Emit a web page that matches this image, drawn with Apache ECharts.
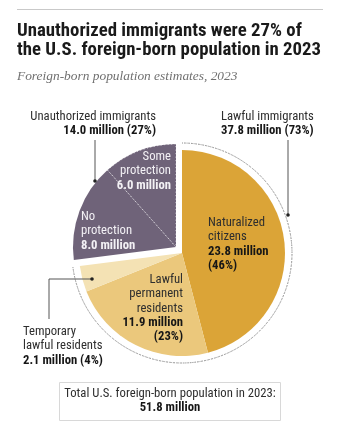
<!DOCTYPE html>
<html>
<head>
<meta charset="utf-8">
<script src="https://cdn.jsdelivr.net/npm/echarts@6/dist/echarts.min.js"></script>
<style>
  html, body { margin: 0; padding: 0; background: #fff; }
  #chart { width: 341px; height: 430px; }
</style>
</head>
<body>
<div id="chart"></div>
<script>
// Foreign-born population by legal status, 2023 (millions)
const categories = ['Naturalized citizens', 'Lawful permanent residents', 'Temporary lawful residents', 'No protection', 'Some protection'];
const values = [23.8, 11.9, 2.1, 8.0, 6.0];
const statusGroup = ['Lawful immigrants', 'Lawful immigrants', 'Lawful immigrants', 'Unauthorized immigrants', 'Unauthorized immigrants'];
const groups = ['Lawful immigrants', 'Unauthorized immigrants'];
const year = 2023;

const sliceColors = ['#dba437', '#ebc87c', '#f4e2b4', '#6f6379', '#6f6379'];
const SANS = "'Liberation Sans Narrow', 'Roboto Condensed', 'DejaVu Sans Condensed', sans-serif";
const SERIF = "'Liberation Serif', serif";

const total = values.reduce((a, b) => a + b, 0);
const groupSum = g => values.reduce((s, v, i) => s + (statusGroup[i] === g ? v : 0), 0);
const mil = v => v.toFixed(1) + ' million';
const pct = v => Math.round(v / total * 100) + '%';

const chart = echarts.init(document.getElementById('chart'), null, { renderer: 'canvas' });

const pieBase = {
  type: 'pie',
  startAngle: 90,
  clockwise: true,
  radius: [0, 103],
  silent: true,
  animation: false,
  avoidLabelOverlap: false,
  label: { show: false },
  labelLine: { show: false },
  emphasis: { disabled: true }
};

// lawful slices around the main center; unauthorized ones pulled out up-left
const lawfulPie = Object.assign({}, pieBase, {
  center: [182, 253],
  data: categories.map((c, i) => ({
    name: c, value: values[i],
    itemStyle: statusGroup[i] === groups[0]
      ? { color: sliceColors[i], borderWidth: 0 }
      : { color: 'none', borderWidth: 0 }
  }))
});
const unauthPie = Object.assign({}, pieBase, {
  center: [176, 247],
  data: categories.map((c, i) => {
    let style = { color: 'none', borderWidth: 0 };
    if (statusGroup[i] === groups[1]) {
      style = { color: sliceColors[i], borderWidth: 0 };
      if (c === 'Some protection') {
        style = { color: sliceColors[i], borderWidth: 1, borderColor: 'rgba(255,255,255,0.85)', borderType: [1, 2.5] };
      }
    }
    return { name: c, value: values[i], itemStyle: style };
  })
});
// dotted bracket arc around the lawful share
const outlinePie = Object.assign({}, pieBase, {
  center: [182, 253],
  radius: [110, 110],
  data: groups.map(g => ({
    name: g, value: groupSum(g),
    itemStyle: g === groups[0]
      ? { color: 'none', borderWidth: 1, borderColor: '#7c7c7c', borderType: [1, 2.5] }
      : { color: 'none', borderWidth: 0 }
  }))
});

const LH = 14.3;
function block(x, y0, align, lines, color) {
  return lines.map((ln, k) => ({
    type: 'text',
    silent: true,
    z: 100,
    style: {
      text: ln.t,
      x: x, y: y0 + k * LH,
      fill: color || (ln.b ? '#161616' : '#2e2e2e'),
      font: (ln.b ? 'bold ' : '') + '12.7px ' + SANS,
      textAlign: align, align: align,
      textVerticalAlign: 'middle', verticalAlign: 'middle'
    }
  }));
}
function dot(x, y) {
  return { type: 'circle', silent: true, z: 100, shape: { cx: x, cy: y, r: 1.8 }, style: { fill: '#222' } };
}
function leader(points) {
  return { type: 'polyline', silent: true, z: 100, shape: { points: points }, style: { stroke: '#555', lineWidth: 1, fill: 'none' } };
}

const inner = '#f3f1f5';
const graphics = [
  { type: 'line', silent: true, z: 100, shape: { x1: 17, y1: 9.5, x2: 323, y2: 9.5 }, style: { stroke: '#c9c9c9', lineWidth: 1 } },
  { type: 'text', silent: true, z: 100, style: { text: 'Unauthorized immigrants were ' + pct(groupSum(groups[1])) + ' of', x: 17, y: 31, fill: '#1a1a1a',
      font: 'bold 18.8px ' + SANS, textVerticalAlign: 'middle', verticalAlign: 'middle' } },
  { type: 'text', silent: true, z: 100, style: { text: 'the U.S. foreign-born population in ' + year, x: 17, y: 50.5, fill: '#1a1a1a',
      font: 'bold 18.8px ' + SANS, textVerticalAlign: 'middle', verticalAlign: 'middle' } },
  { type: 'text', silent: true, z: 100, style: { text: 'Foreign-born population estimates, ' + year, x: 17, y: 76, fill: '#707070',
      font: 'italic 13.4px ' + SERIF, textVerticalAlign: 'middle', verticalAlign: 'middle' } },

  ...block(156, 117, 'right', [{ t: groups[1] }, { t: mil(groupSum(groups[1])) + ' (' + pct(groupSum(groups[1])) + ')', b: true }]),
  ...block(221, 117, 'left', [{ t: groups[0] }, { t: mil(groupSum(groups[0])) + ' (' + pct(groupSum(groups[0])) + ')', b: true }]),

  ...block(171, 157, 'right', [{ t: 'Some' }, { t: 'protection' }, { t: mil(values[4]), b: true }], inner),
  ...block(81, 217, 'left', [{ t: 'No' }, { t: 'protection' }, { t: mil(values[3]), b: true }], inner),
  ...block(208, 223, 'left', [{ t: 'Naturalized' }, { t: 'citizens' }, { t: mil(values[0]), b: true }, { t: '(' + pct(values[0]) + ')', b: true }]),
  ...block(183, 280, 'right', [{ t: 'Lawful' }, { t: 'permanent' }, { t: 'residents' }, { t: mil(values[1]), b: true }, { t: '(' + pct(values[1]) + ')', b: true }]),
  ...block(23, 332, 'left', [{ t: 'Temporary' }, { t: 'lawful residents' }, { t: mil(values[2]) + ' (' + pct(values[2]) + ')', b: true }]),

  leader([[95, 140], [95, 181]]), dot(95, 181),
  leader([[288, 140], [288, 215]]), dot(288, 215),
  leader([[49, 319], [49, 279], [91, 279]]), dot(92, 279),

  { type: 'rect', silent: true, z: 100, shape: { x: 59.5, y: 382.5, width: 221, height: 38 }, style: { fill: 'none', stroke: '#d8d8d8', lineWidth: 1 } },
  ...block(170, 394, 'center', [{ t: 'Total U.S. foreign-born population in ' + year + ':' }, { t: mil(total), b: true }])
];

chart.setOption({
  backgroundColor: '#ffffff',
  animation: false,
  series: [lawfulPie, unauthPie, outlinePie],
  graphic: graphics
});
</script>
</body>
</html>
